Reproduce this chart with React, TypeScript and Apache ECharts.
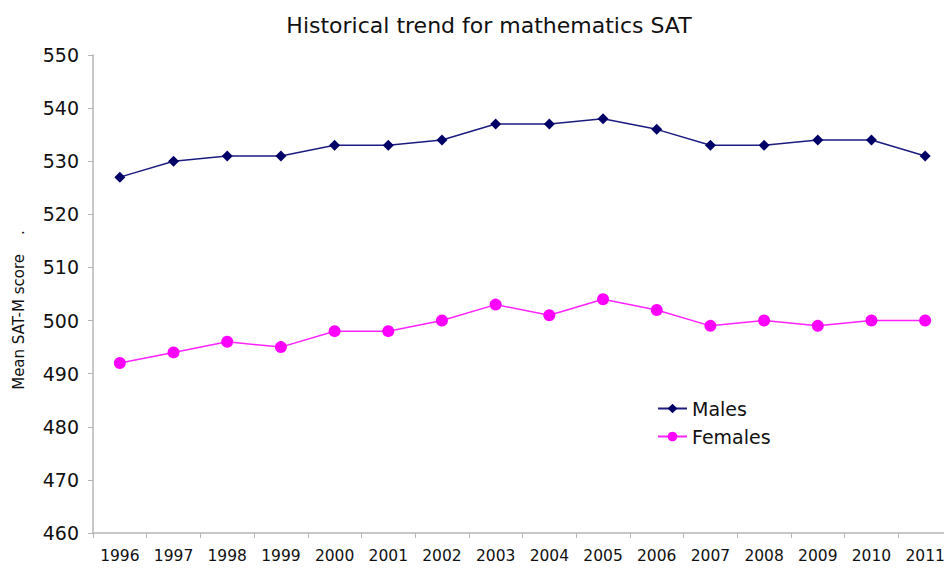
import React, { useEffect, useRef } from "react";
import * as echarts from "echarts";

const years = ["1996", "1997", "1998", "1999", "2000", "2001", "2002", "2003", "2004", "2005", "2006", "2007", "2008", "2009", "2010", "2011"];
const males = [527, 530, 531, 531, 533, 533, 534, 537, 537, 538, 536, 533, 533, 534, 534, 531];
const females = [492, 494, 496, 495, 498, 498, 500, 503, 501, 504, 502, 499, 500, 499, 500, 500];
const yTitle = "Mean SAT-M score    .";

const FONT = "DejaVu Sans";

export default function App() {
  const ref = useRef<HTMLDivElement>(null);
  useEffect(() => {
    const chart = echarts.init(ref.current!, null, { renderer: "svg" });
    chart.setOption({
      animation: false,
      backgroundColor: "#ffffff",
      title: {
        text: "Historical trend for mathematics SAT",
        left: 484,
        top: 9,
        textAlign: "center",
        textStyle: { fontFamily: FONT, fontSize: 22, fontWeight: "normal", color: "#111" },
      },
      legend: {
        orient: "vertical",
        left: 652,
        top: 394,
        itemGap: 9,
        itemWidth: 29,
        itemHeight: 12,
        textStyle: { fontFamily: FONT, fontSize: 19, color: "#111" },
        data: ["Males", "Females"],
      },
      graphic: [
        {
          type: "text",
          x: 19,
          y: 310,
          rotation: Math.PI / 2,
          style: {
            text: yTitle,
            fontFamily: FONT,
            fontSize: 15,
            fill: "#111",
            align: "center",
            verticalAlign: "middle",
          },
        },
      ],
      grid: { left: 93, top: 55, bottom: 35, width: 859, outerBoundsMode: "none", containLabel: false },
      xAxis: {
        type: "category",
        data: years,
        boundaryGap: true,
        axisLine: { lineStyle: { color: "#b5b5b5", width: 1.5 } },
        axisTick: { show: true, length: 5, lineStyle: { color: "#b5b5b5" } },
        axisLabel: { fontFamily: FONT, fontSize: 15.5, color: "#111", margin: 15, interval: 0 },
        splitLine: { show: false },
      },
      yAxis: {
        type: "value",
        min: 460,
        max: 550,
        interval: 10,
        axisLine: { show: true, lineStyle: { color: "#b5b5b5", width: 1.5 } },
        axisTick: { show: true, length: 5, lineStyle: { color: "#b5b5b5" } },
        axisLabel: { fontFamily: FONT, fontSize: 19, color: "#111", margin: 14 },
        splitLine: { show: false },
      },
      series: [
        {
          name: "Males",
          type: "line",
          data: males,
          symbol: "diamond",
          symbolSize: 11,
          lineStyle: { color: "#1c1c80", width: 1.5 },
          itemStyle: { color: "#000066" },
        },
        {
          name: "Females",
          type: "line",
          data: females,
          symbol: "circle",
          symbolSize: 12,
          lineStyle: { color: "#ff22ff", width: 1.5 },
          itemStyle: { color: "#ff00ff" },
        },
      ],
    });
    return () => chart.dispose();
  }, []);
  return <div ref={ref} style={{ position: "fixed", left: 0, top: 0, width: 944, height: 568 }} />;
}
